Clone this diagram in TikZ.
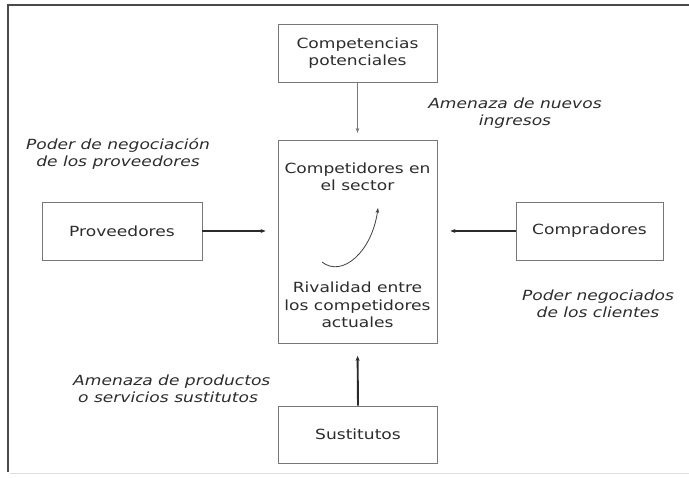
\documentclass[tikz,border=0pt]{standalone}
\usepackage{fontspec}
\setmainfont[FakeStretch=1.22]{DejaVu Sans}
\usetikzlibrary{arrows.meta}
\definecolor{txt}{HTML}{2C2C2C}
\definecolor{boxline}{HTML}{777777}
\definecolor{frame}{HTML}{4A4A4A}
\definecolor{arr}{HTML}{2A2A2A}
\begin{document}
\begin{tikzpicture}[x=1pt,y=-1pt,
  every node/.style={text=txt,font=\fontsize{14}{17.5}\selectfont,align=center,inner sep=0pt},
  forcebox/.style={draw=boxline,line width=0.9pt,rectangle,minimum width=#1},
  lbl/.style={font=\fontsize{14}{17.5}\selectfont\itshape},
  thinarrow/.style={draw=boxline,line width=0.9pt,-{Stealth[length=5pt,width=3.5pt]}},
  thickarrow/.style={draw=arr,line width=1.9pt,-{Stealth[length=5pt,width=4pt]}}]
\useasboundingbox (0,0) rectangle (689,478);
% frame
\draw[frame,line width=2.4pt] (8,472) -- (8,5) -- (689,5);
\draw[black!12,line width=1pt] (10,473.5) -- (689,473.5);
% boxes
\node[forcebox=159pt,minimum height=58pt] (pot) at (357.5,53) {Competencias\\potenciales};
\node[forcebox=159pt,minimum height=203pt] (sec) at (357.5,242) {};
\node[forcebox=160pt,minimum height=58pt] (prov) at (122,231) {Proveedores};
\node[forcebox=147pt,minimum height=58pt] (comp) at (589.5,231) {Compradores};
\node[forcebox=159pt,minimum height=57pt] (sust) at (358,434.5) {Sustitutos};
% texts inside central box
\node (ctop) at (357.5,177) {Competidores en\\el sector};
\node (cbot) at (357.5,305) {Rivalidad entre\\los competidores\\actuales};
% labels
\node[lbl] (l1) at (515,113) {Amenaza de nuevos\\ingresos};
\node[lbl] (l2) at (118,154) {Poder de negociación\\de los proveedores};
\node[lbl] (l3) at (598,304) {Poder negociados\\de los clientes};
\node[lbl,anchor=west,align=left] (l4) at (73,389) {Amenaza de productos\\\hspace*{5pt}o servicios sustitutos};
% arrows
\draw[thinarrow,shorten >=7pt] (pot.south) -- (sec.north);
\draw[thickarrow,shorten >=12pt] (prov.east) -- (prov.east -| sec.west);
\draw[thickarrow,shorten >=13pt] (comp.west) -- (comp.west -| sec.east);
\draw[thickarrow,shorten >=12pt] (sust.north) -- (sec.south);
% curved arrow
\coordinate (cs) at (322,262);
\coordinate (ce) at (378,208);
\draw[thinarrow,draw=arr!90,line width=0.8pt] (cs) .. controls (342,278) and (372,252) .. (ce);
\end{tikzpicture}
\end{document}
